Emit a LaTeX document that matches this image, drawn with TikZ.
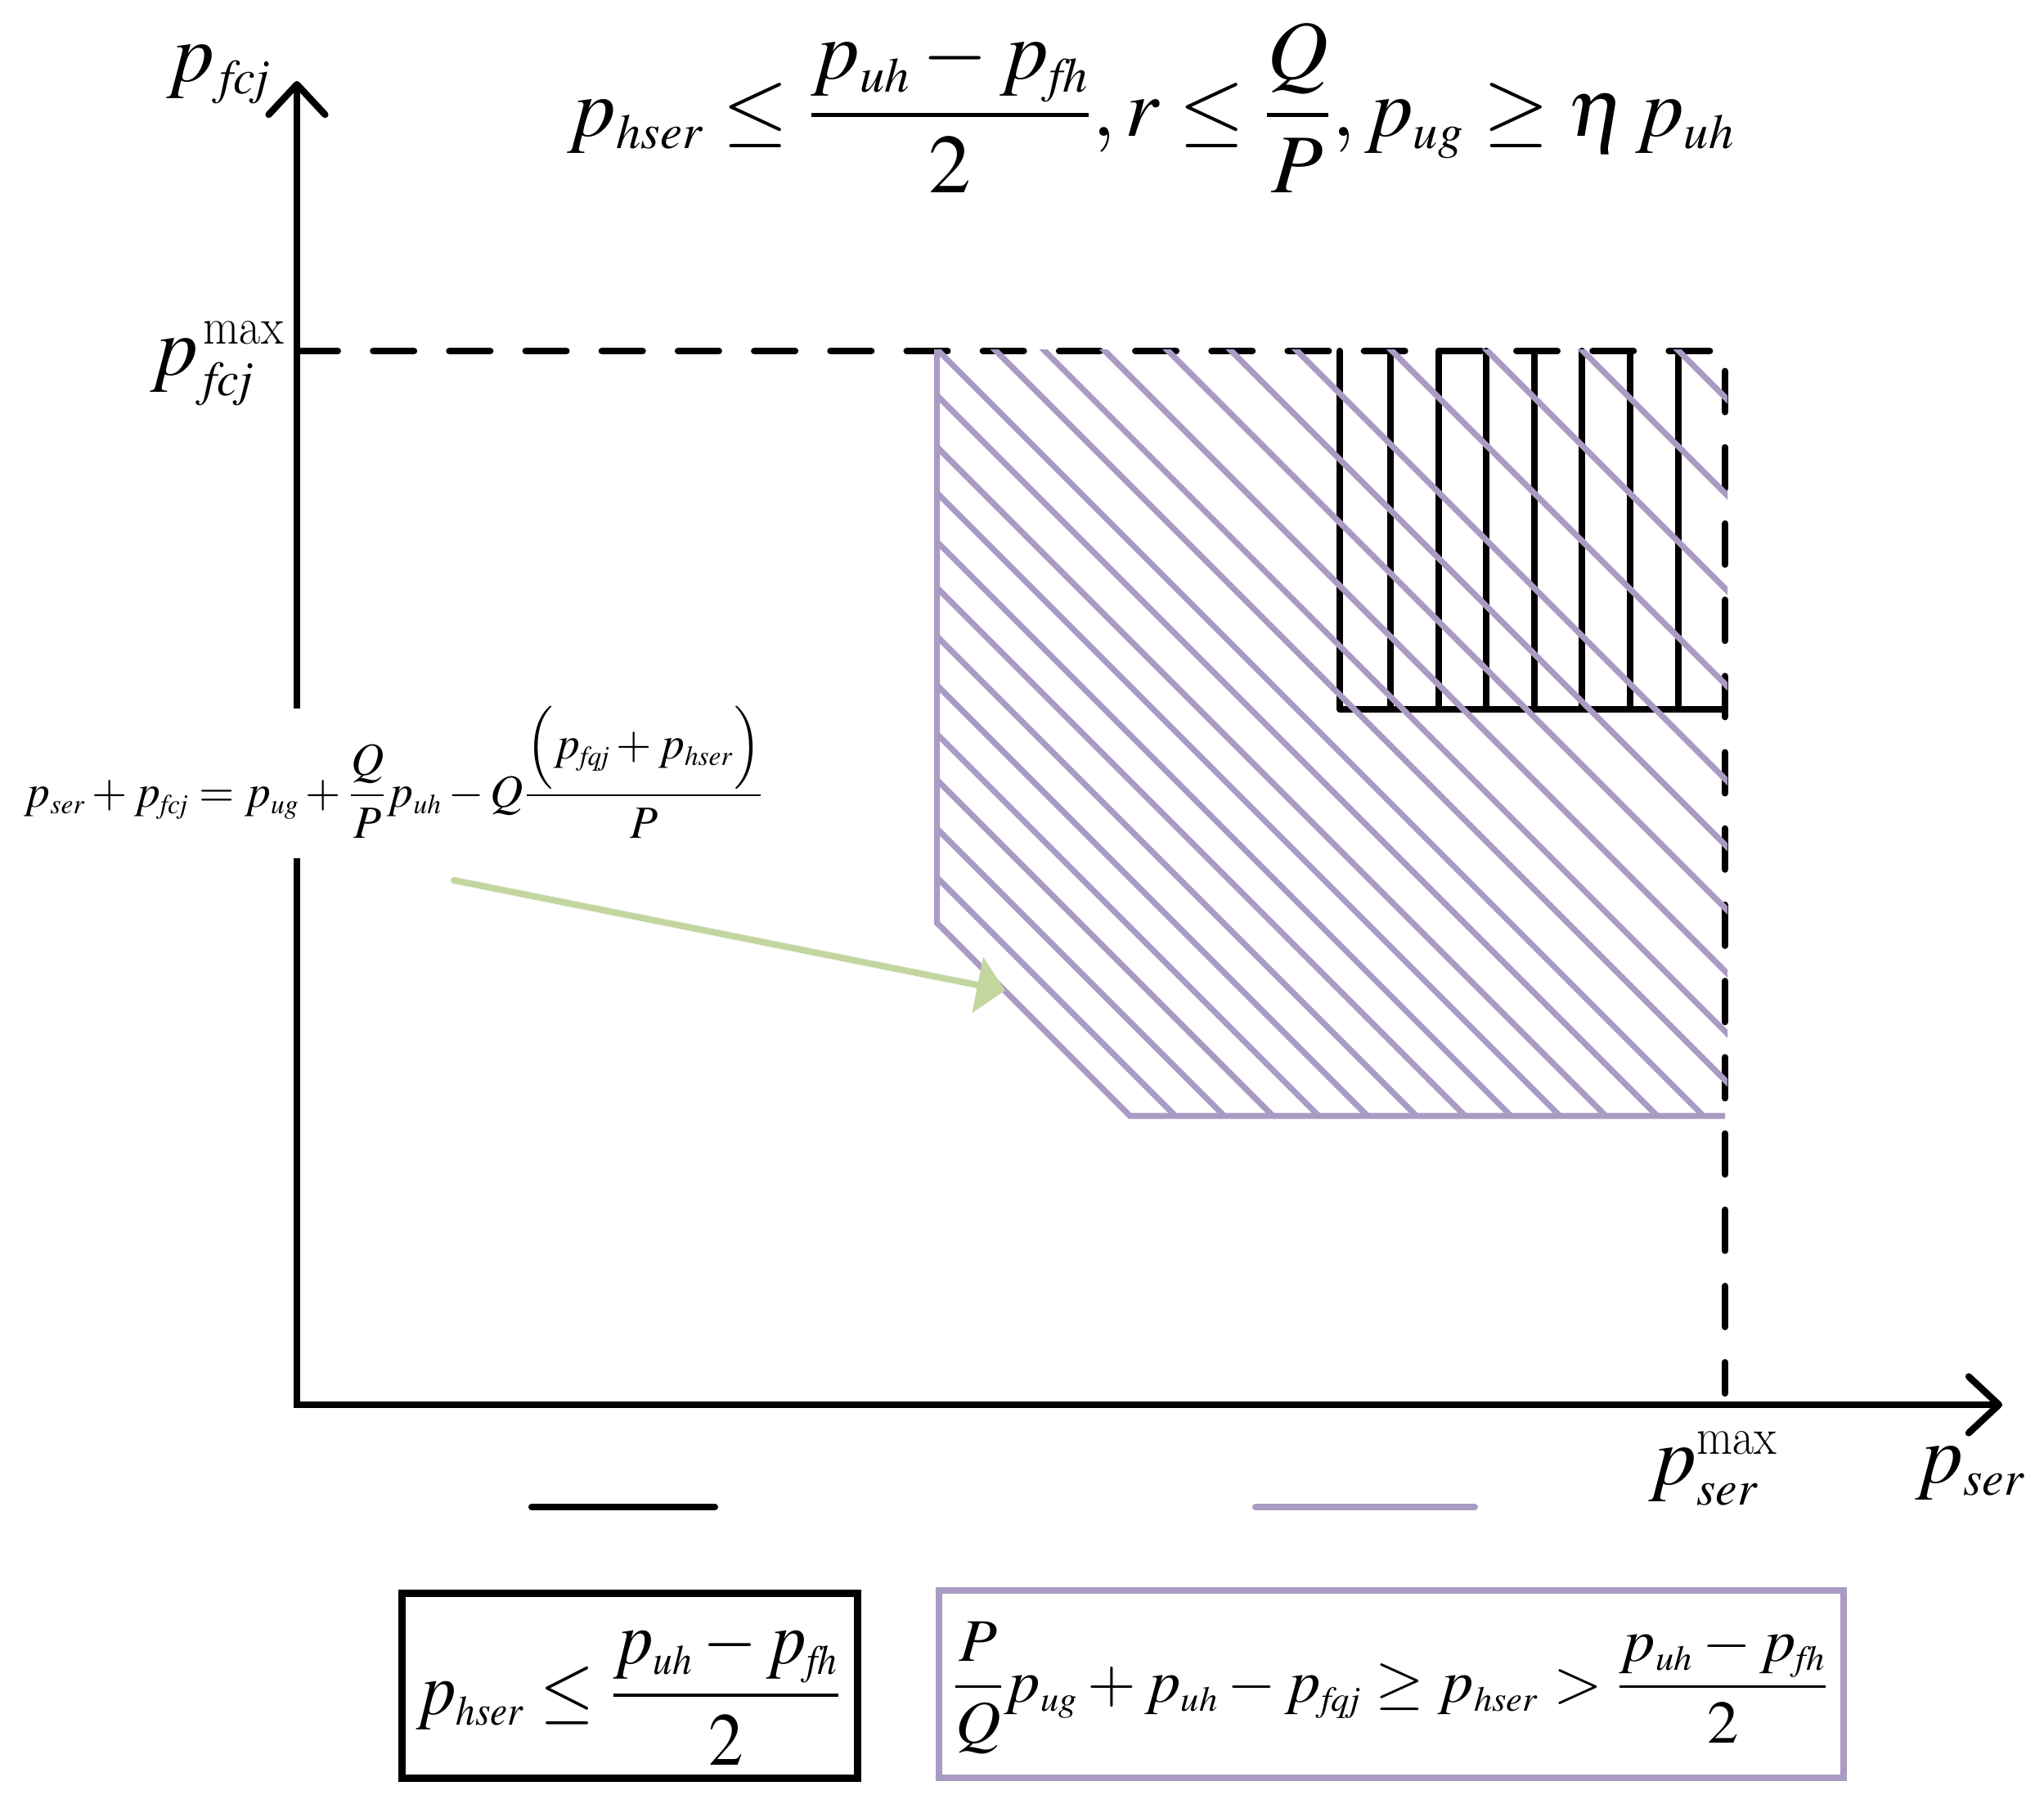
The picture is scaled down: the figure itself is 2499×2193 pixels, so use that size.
\documentclass[tikz,border=0pt]{standalone}
\usepackage{mathptmx}
\usepackage{graphicx}
\usetikzlibrary{arrows.meta}
\definecolor{lav}{RGB}{169,155,195}
\definecolor{grn}{RGB}{196,214,160}
\DeclareMathSizes{29}{29}{17}{13}
\DeclareMathSizes{26}{26}{14.5}{11}
\DeclareMathSizes{21}{21}{12.2}{9}
\DeclareMathSizes{16}{16}{9.6}{7}
\newcommand{\fsz}[1]{\fontsize{#1}{#1}\selectfont}
\newcommand{\ii}[1]{\mathit{#1}}
\newcommand{\mx}{\mbox{\fontsize{18}{18}\selectfont\scalebox{0.9}[1]{max}}}
\begin{document}
\begin{tikzpicture}[x=0.01cm,y=-0.01cm,
  axline/.style={line width=2.36pt,line join=miter,-{Straight Barb[length=10.5pt,width=19.6pt,round]}},
  dsh/.style={line width=2.3pt,line cap=round,dash pattern=on 14.2pt off 12.3pt},
  blk/.style={line width=2.3pt,line cap=round,line join=round},
  hatch/.style={line width=2.05pt,draw=lav},
  garrow/.style={line width=2.3pt,draw=grn,line cap=round,-{Triangle[length=9.8pt,width=19.3pt,fill=grn]}},
  lbl/.style={inner sep=0pt,anchor=base west},
  bbox/.style={draw=black,line width=2.5pt,minimum width=5.57cm,minimum height=2.26cm,inner sep=0pt},
  pbox/.style={draw=lav,line width=2.28pt,minimum width=11.06cm,minimum height=2.29cm,inner sep=0pt},
  legline/.style={line width=2.3pt,line cap=round}]
\useasboundingbox (0,0) rectangle (2499,2193);
% axes
\coordinate (O) at (363,1717);
\coordinate (ytip) at (363,99);
\coordinate (xtip) at (2448,1717);
\coordinate (ygapb) at (363,1049);
\coordinate (ygapt) at (363,866);
\draw[axline] (ygapb) -- (O) -- (xtip);
\draw[axline] (ygapt) -- (ytip);
% dashed limits
\draw[dsh] (363,429) -- (2109,429) -- (2109,1703);
% black vertical hatching
\draw[blk] (1638,429) -- (1638,867) -- (2109,867);
\foreach \x in {1700,1759,1817,1876,1934,1993,2052}
  \draw[blk] (\x,429) -- (\x,867);
% purple hatched region
\begin{scope}
  \clip (1145.6,427) -- (2112,427) -- (2112,1364) -- (1381.6,1364) -- (1145.6,1128) -- cycle;
  \foreach \c in {73.0,132.7,192.3,248.4,308.1,367.7,427.3,483.4,543.1,599.2,662.3,718.6,788.7,848.4,922.0,999.2,1076.4,1157.0,1273,1389.7,1506.3,1623.5}
    \draw[hatch] (\c+300,300) -- (\c+1500,1500);
\end{scope}
\draw[hatch,line join=miter] (1145.6,427) -- (1145.6,1128) -- (1381.6,1364) -- (2109,1364);
% labels
\node[lbl] (title) at (693,166) {\fsz{29}\scalebox{1.015}[1]{$\displaystyle p_{\ii{hser}}\le\frac{p_{\ii{uh}}-p_{\ii{fh}}}{2},r\le\frac{Q}{P},p_{\ii{ug}}\ge\eta\,p_{\ii{uh}}$}};
\node[lbl] (ylab) at (203,99) {\fsz{29}$p_{\,\ii{fcj}}$};
\node[lbl] (ymax) at (183,458) {\fsz{29}$p_{\,\ii{fcj}}^{\,\mx}$};
\node[lbl] (xmax) at (2015,1814) {\fsz{29}$p_{\ii{ser}}^{\mx}$};
\node[lbl] (xlab) at (2341,1812) {\fsz{29}$p_{\ii{ser}}$};
\node[lbl] (eq) at (29,986) {\fsz{16}\scalebox{0.99}[1]{$\displaystyle p_{\ii{ser}}+p_{\ii{fcj}}=p_{\ii{ug}}+\frac{Q}{P}p_{\ii{uh}}-Q\frac{\Bigl(p_{\ii{fqj}}+p_{\ii{hser}}\Bigr)}{P}$}};
% green arrow
\coordinate (gs) at (555,1076);
\coordinate (gt) at (1229,1210.7);
\draw[garrow] (gs) -- (gt);
% legend
\draw[legline,black] (650,1842) -- (874,1842);
\draw[legline,lav] (1535,1842) -- (1803,1842);
\node[bbox] (box1) at (770,2060.5) {};
\node[pbox] (box2) at (1701,2058.5) {};
\node[lbl] (t1) at (508,2095) {\fsz{26}\scalebox{0.93}[1]{$\displaystyle p_{\ii{hser}}\le\frac{p_{\ii{uh}}-p_{\ii{fh}}}{2}$}};
\node[lbl] (t2) at (1163,2080) {\fsz{21}\scalebox{1.04}[1]{$\displaystyle \frac{P}{Q}p_{\ii{ug}}+p_{\ii{uh}}-p_{\ii{fqj}}\ge p_{\ii{hser}}>\frac{p_{\ii{uh}}-p_{\ii{fh}}}{2}$}};
\end{tikzpicture}
\end{document}
